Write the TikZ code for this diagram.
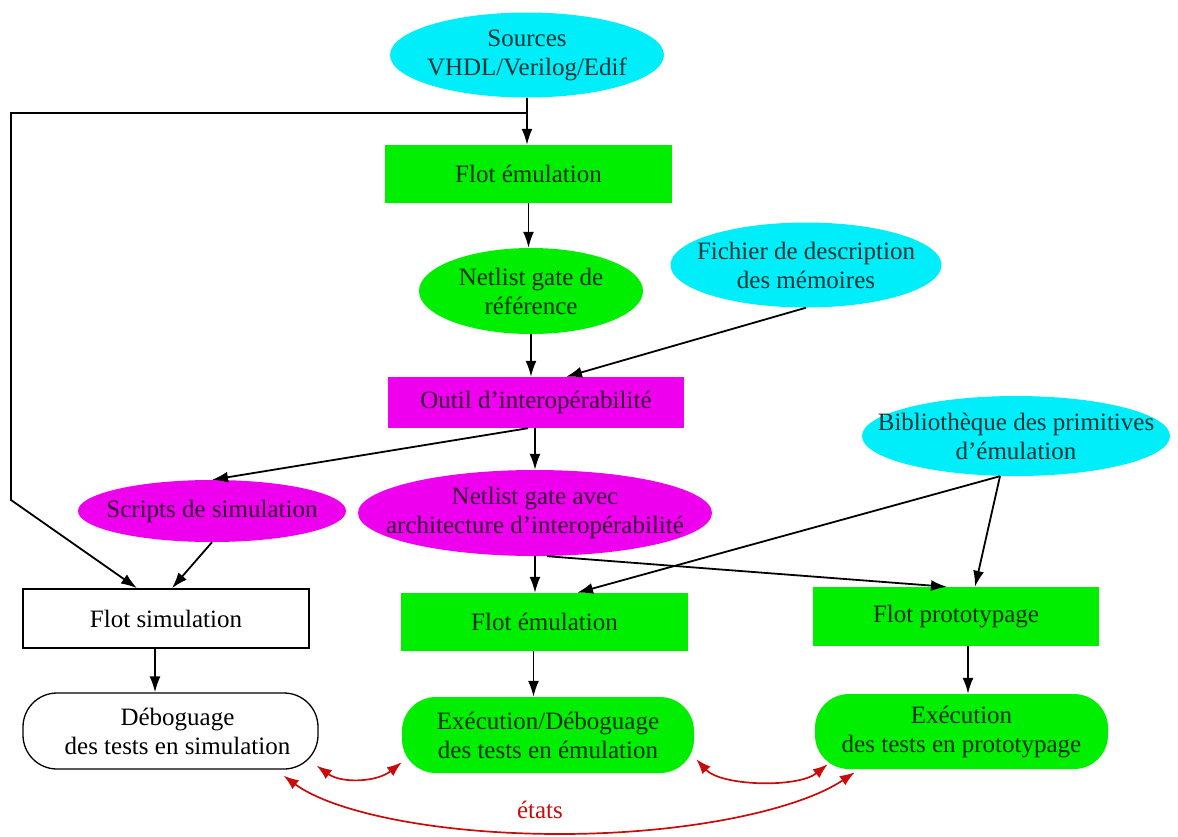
\documentclass[tikz,border=0pt]{standalone}
\usepackage{fontspec}
\setmainfont{Liberation Serif}
\usetikzlibrary{shapes.geometric,arrows.meta}

\definecolor{cyfill}{RGB}{0,238,250}
\definecolor{grfill}{RGB}{0,238,0}
\definecolor{mgfill}{RGB}{238,0,238}
\definecolor{stred}{RGB}{200,12,12}
\newcommand{\lblfont}{\fontsize{25}{29}\selectfont}

\begin{document}
\begin{tikzpicture}[x=1pt,y=-1pt,
  ell/.style={ellipse, inner sep=0pt, draw=none},
  box/.style={rectangle, inner sep=0pt, font=\lblfont, align=center},
  pill/.style={rectangle, rounded corners=34pt, inner sep=0pt, font=\lblfont, align=center},
  txt/.style={font=\lblfont, align=center, inner sep=0pt},
  flow/.style={draw=black, line width=1.8pt, -{Latex[length=16pt,width=11pt]}},
  swap/.style={draw=stred, line width=1.7pt,
    {Latex[length=15pt,width=11pt]}-{Latex[length=15pt,width=11pt]}},
]
\fill[white] (0,0) rectangle (1178,836);
\useasboundingbox (0,0) rectangle (1178,836);

% ---- inputs and reference flow
\node[ell, fill=cyfill, minimum width=274pt, minimum height=85pt] (src) at (527,55) {};
\node[txt, text=cyfill!22!black] (srcT) at (src.center) {Sources\\VHDL/Verilog/Edif};

\node[box, fill=grfill, text=grfill!20!black, minimum width=287pt, minimum height=58pt]
  (fe1) at (528.5,174) {Flot émulation};

\node[ell, fill=grfill, minimum width=224pt, minimum height=86pt] (ref) at (531,291) {};
\node[txt, text=grfill!20!black] (refT) at (ref.center) {Netlist gate de\\référence};

\node[ell, fill=cyfill, minimum width=271pt, minimum height=85pt] (fich) at (806,265) {};
\node[txt, text=cyfill!22!black] (fichT) at (fich.center) {Fichier de description\\des mémoires};

\node[box, fill=mgfill, text=mgfill!22!black, minimum width=296pt, minimum height=51pt]
  (outil) at (536,402.5) {Outil d’interopérabilité};

% ---- outputs of the interoperability tool
\node[ell, fill=mgfill, minimum width=268pt, minimum height=62pt] (scr) at (212,511) {};
\node[txt, text=mgfill!22!black] (scrT) at (scr.center) {Scripts de simulation};

\node[ell, fill=mgfill, minimum width=354pt, minimum height=86pt] (avec) at (535,513) {};
\node[txt, text=mgfill!22!black] (avecT) at (avec.center)
  {Netlist gate avec\\architecture d’interopérabilité};

\node[ell, fill=cyfill, minimum width=308pt, minimum height=80pt] (bib) at (1016,436) {};
\node[txt, text=cyfill!22!black] (bibT) at (bib.center) {Bibliothèque des primitives\\d’émulation};

% ---- the three flows
\node[box, draw=black, line width=1.6pt, fill=white, minimum width=286pt, minimum height=59pt]
  (fsim) at (166,618.5) {Flot simulation};
\node[box, fill=grfill, text=grfill!20!black, minimum width=287pt, minimum height=58pt]
  (fe2) at (544.5,622) {Flot émulation};
\node[box, fill=grfill, text=grfill!20!black, minimum width=286pt, minimum height=59pt]
  (fpro) at (956,616.5) {Flot prototypage};

% ---- test execution
\node[pill, draw=black, line width=1.3pt, fill=white, minimum width=295pt, minimum height=76pt]
  (deb) at (170.5,731) {\hspace*{14pt}Déboguage\\\hspace*{14pt}des tests en simulation};
\node[pill, fill=grfill, text=grfill!20!black, minimum width=292pt, minimum height=76pt]
  (exe) at (548,735) {Exécution/Déboguage\\des tests en émulation};
\node[pill, fill=grfill, text=grfill!20!black, minimum width=293pt, minimum height=75pt]
  (exp) at (961.5,731.5) {Exécution\\des tests en prototypage};

% ---- black connectors
\coordinate (jn) at (src.south |- 0,113);
\coordinate (cTL) at (11,113);
\coordinate (cBL) at (11,500);
\draw[flow] (src.south) -- (src.south |- fe1.north);
\draw[flow] (jn) -- (cTL) -- (cBL) -- ([xshift=-29pt]fsim.north);
\draw[flow] (fe1.south) -- (fe1.south |- ref.north);
\draw[flow] (ref.south) -- (ref.south |- outil.north);
\draw[flow] (fich.south) -- ([xshift=30pt]outil.north);
\draw[flow] ([xshift=-8pt]outil.south) -- (scr.north);
\draw[flow] (outil.south -| avec.north) -- (avec.north);
\draw[flow] (scr.south) -- ([xshift=6pt]fsim.north);
\draw[flow] (avec.south) -- (avec.south |- fe2.north);
\draw[flow] ([xshift=12pt]avec.south) -- ([xshift=-9pt]fpro.north);
\draw[flow] ([xshift=-16pt]bib.south) -- ([xshift=32.5pt]fe2.north);
\draw[flow] ([xshift=-16pt]bib.south) -- ([xshift=19pt]fpro.north);
\draw[flow] ([xshift=-11pt]fsim.south) -- ([xshift=-11pt]fsim.south |- deb.north);
\draw[flow] ([xshift=-11pt]fe2.south) -- ([xshift=-11pt]fe2.south |- exe.north);
\draw[flow] ([xshift=12pt]fpro.south) -- ([xshift=12pt]fpro.south |- exp.north);

% ---- state exchange between the execution environments
\draw[swap] ([xshift=-2pt,yshift=4pt]deb.south east)
  .. controls +(25pt,-18pt) and +(-25pt,-20pt) .. ([yshift=11pt]exe.south west);
\draw[swap] ([xshift=2pt,yshift=14pt]exe.south east)
  .. controls +(25pt,-27pt) and +(-30pt,-24pt) .. ([xshift=13pt,yshift=5pt]exp.south west);
\coordinate (stbot) at (560,834);
\draw[swap] ([xshift=-35pt,yshift=-6pt]deb.south east)
  .. controls +(47pt,-35pt) and +(-130pt,0pt) .. (stbot)
  .. controls +(130pt,0pt) and +(-55pt,-37pt) .. ([xshift=40pt,yshift=-3pt]exp.south west);
\node[font=\lblfont, text=stred, inner sep=0pt] (st) at (540,810) {états};
\end{tikzpicture}
\end{document}
